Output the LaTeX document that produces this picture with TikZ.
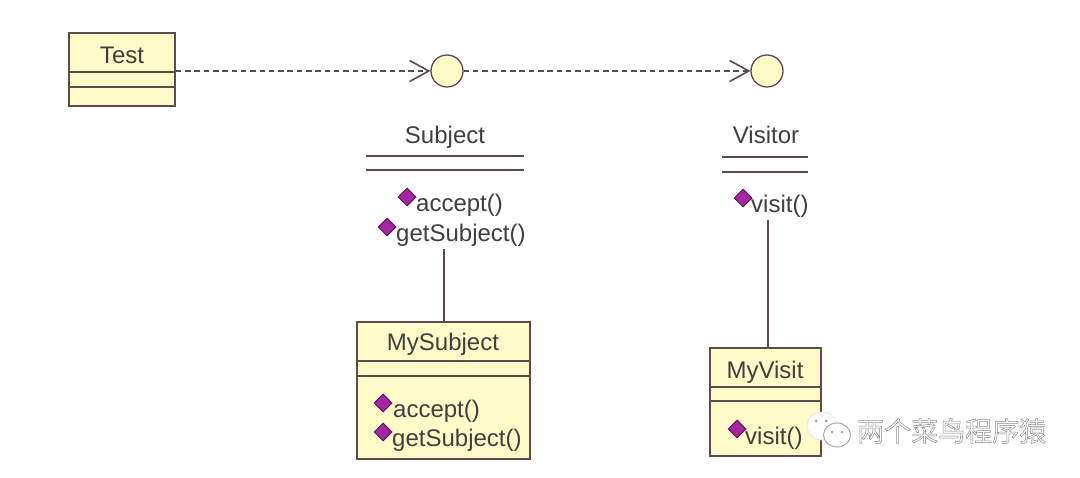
\documentclass[tikz,border=0pt]{standalone}
\usepackage{fontspec}
\setmainfont{Liberation Sans}
\newfontfamily\cjk{Noto Sans CJK SC}
\usetikzlibrary{arrows.meta,shapes.geometric}
\definecolor{umlline}{HTML}{5E4A4A}
\definecolor{umlfill}{HTML}{FFFBC8}
\definecolor{umltext}{HTML}{3F3F3F}
\definecolor{opfill}{HTML}{A526A5}
\definecolor{opedge}{HTML}{5A1A5A}
\definecolor{wmgray}{HTML}{A0A0A0}
\tikzset{
  x=1pt,y=-1pt,
  umlbox/.style 2 args={draw=umlline,fill=umlfill,line width=1.7pt,rectangle,inner sep=0pt,minimum width=#1,minimum height=#2},
  iface/.style={draw=umlline,fill=umlfill,line width=1.3pt,circle,inner sep=0pt,minimum size=32pt},
  rulebar/.style={draw=umlline,line width=1.7pt},
  linkline/.style={draw=umlline,line width=1.5pt},
  realize/.style={draw=umlline,line width=1.6pt,dash pattern=on 5.5pt off 3.8pt},
  opentip/.style={-{Straight Barb[length=19pt,width=21pt]}},
  txt/.style={text=umltext,inner sep=0pt,anchor=base,font=\fontsize{24}{24}\selectfont},
  optxt/.style={txt,anchor=base west},
  opmark/.style={diamond,aspect=1,draw=opedge,fill=opfill,line width=1pt,inner sep=0pt,minimum size=18pt},
  wmbubble/.style={ellipse,draw=wmgray,fill=white,line width=0.9pt,inner sep=0pt},
  wmghost/.style={ellipse,draw=black!12,fill=white,line width=0.7pt,inner sep=0pt},
}
\begin{document}
\begin{tikzpicture}
\useasboundingbox[fill=white] (0,0) rectangle (1080,478);
% classes
\node[umlbox={106pt}{73pt}] (test) at (122,69.5) {};
\draw[rulebar] (test.west |- 0,72) -- (test.east |- 0,72);
\draw[rulebar] (test.west |- 0,87) -- (test.east |- 0,87);
\node[txt] (testname) at (122,64) {Test};
% interfaces
\node[iface] (isubject) at (447,71) {};
\node[iface] (ivisitor) at (767,71) {};
\draw[realize,opentip] (test.east |- isubject.west) -- (isubject.west);
\draw[realize,opentip] (isubject.east) -- (ivisitor.west);
% Subject
\node[txt] (subjectname) at (445,144) {Subject};
\coordinate (sl) at (366,156); \coordinate (sr) at (524,156);
\draw[rulebar] (sl) -- (sr);
\draw[rulebar] ([yshift=-14pt]sl) -- ([yshift=-14pt]sr);
\node[optxt] (sop1) at (416,212) {accept()};
\node[optxt] (sop2) at (396,242) {getSubject()};
\node[opmark] (sm1) at (407,197) {};
\node[opmark] (sm2) at (387,227) {};
% Visitor
\node[txt] (visitorname) at (766,144) {Visitor};
\coordinate (vl) at (722,157); \coordinate (vr) at (808,157);
\draw[rulebar] (vl) -- (vr);
\draw[rulebar] ([yshift=-15pt]vl) -- ([yshift=-15pt]vr);
\node[optxt] (vop1) at (751,213) {visit()};
\node[opmark] (vm1) at (743,198) {};
% MySubject
\node[umlbox={173pt}{137pt}] (mysubject) at (443.5,390.5) {};
\draw[rulebar] (mysubject.west |- 0,361) -- (mysubject.east |- 0,361);
\draw[rulebar] (mysubject.west |- 0,376) -- (mysubject.east |- 0,376);
\node[txt] (mysubjectname) at (443,351) {MySubject};
\node[optxt] (mop1) at (393,418) {accept()};
\node[optxt] (mop2) at (392,447) {getSubject()};
\node[opmark] (mm1) at (383,403) {};
\node[opmark] (mm2) at (383,432) {};
% MyVisit
\node[umlbox={111pt}{108pt}] (myvisit) at (765.5,402) {};
\draw[rulebar] (myvisit.west |- 0,387) -- (myvisit.east |- 0,387);
\draw[rulebar] (myvisit.west |- 0,401) -- (myvisit.east |- 0,401);
\node[txt] (myvisitname) at (765,379) {MyVisit};
\node[optxt] (myop1) at (745,445) {visit()};
\node[opmark] (mym1) at (737,429) {};
% inheritance
\coordinate (subjectfoot) at (444,249);
\coordinate (visitorfoot) at (768,220);
\draw[linkline] (subjectfoot) -- (subjectfoot |- mysubject.north);
\draw[linkline] (visitorfoot) -- (visitorfoot |- myvisit.north);
% watermark
\node[wmghost,minimum width=30pt,minimum height=28pt] (wm1) at (822,426) {};
\node[wmbubble,minimum width=27pt,minimum height=24pt] (wm2) at (837,435) {};
\fill[wmgray] (816,421) circle (1.5) (826,421) circle (1.5) (832,432) circle (1.3) (842,432) circle (1.3);
\node[inner sep=0pt,anchor=west,text=wmgray] (wmtext) at (857,431) {\cjk\fontsize{27}{27}\selectfont\special{pdf:code 1 Tr 0.5 w 0.55 0.55 0.55 RG}两个菜鸟程序猿\special{pdf:code 0 Tr}};
\end{tikzpicture}
\end{document}
